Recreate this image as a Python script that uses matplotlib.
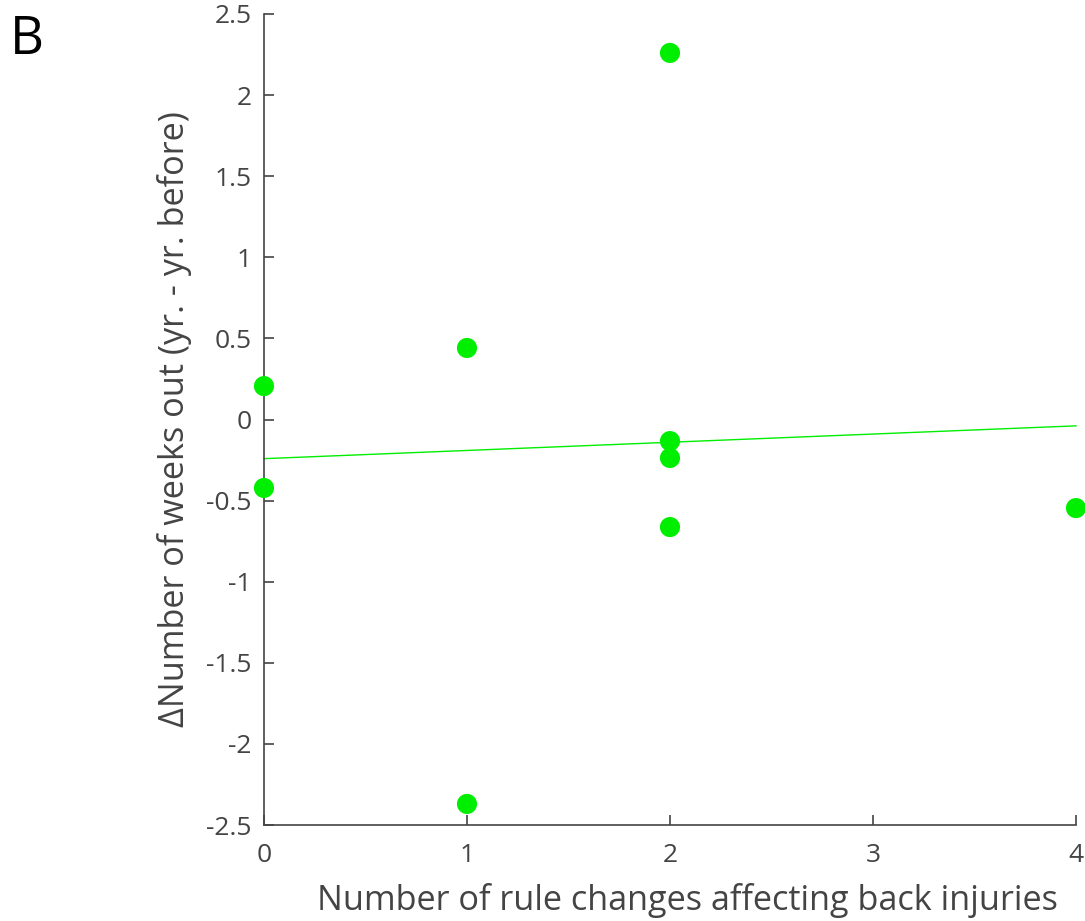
import numpy as np
import matplotlib
matplotlib.use("Agg")
import matplotlib.pyplot as plt

plt.rcParams['font.family'] = ['Open Sans', 'DejaVu Sans']

rule_changes = [0, 0, 1, 1, 2, 2, 2, 2, 4]
delta_weeks = [0.206, -0.422, 0.441, -2.37, 2.26, -0.133, -0.237, -0.663, -0.546]
xticks = [0, 1, 2, 3, 4]
yticks = [-2.5, -2, -1.5, -1, -0.5, 0, 0.5, 1, 1.5, 2, 2.5]

green = '#00ee00'
grey = '#444444'

fig = plt.figure(figsize=(10.85, 9.21), dpi=100)
ax = fig.add_axes([0.2433, 0.1042, 0.7484, 0.8806])

# linear fit through the points
slope, icept = np.polyfit(rule_changes, delta_weeks, 1)
xfit = np.array([min(xticks), max(xticks)])
ax.plot(xfit, slope * xfit + icept, color=green, lw=1.0, clip_on=False)
ax.scatter(rule_changes, delta_weeks, s=210, color=green, edgecolors='none',
           zorder=3, clip_on=False)

ax.set_xlim(0, 4)
ax.set_ylim(-2.5, 2.5)
ax.set_xticks(xticks)
ax.set_yticks(yticks)
ax.set_yticklabels([f'{v:g}' for v in yticks])
for s in ['top', 'right']:
    ax.spines[s].set_visible(False)
for s in ['left', 'bottom']:
    ax.spines[s].set_color(grey)
    ax.spines[s].set_linewidth(1.2)
ax.tick_params(direction='in', length=7, width=1.2, colors=grey,
               labelsize=19)
ax.tick_params(axis='x', pad=13)
ax.tick_params(axis='y', pad=9)
ax.set_xlabel('Number of rule changes affecting back injuries',
              fontsize=24.7, color=grey)
ax.set_ylabel('ΔNumber of weeks out (yr. - yr. before)',
              fontsize=24.7, color=grey, labelpad=10)
ax.xaxis.set_label_coords(0.521, -0.071, transform=ax.transAxes)
ax.xaxis.label.set_va('top')

fig.text(0.009, 0.985, 'B', fontsize=38, va='top', ha='left', color='black')

fig.savefig('out.png', dpi=100)
